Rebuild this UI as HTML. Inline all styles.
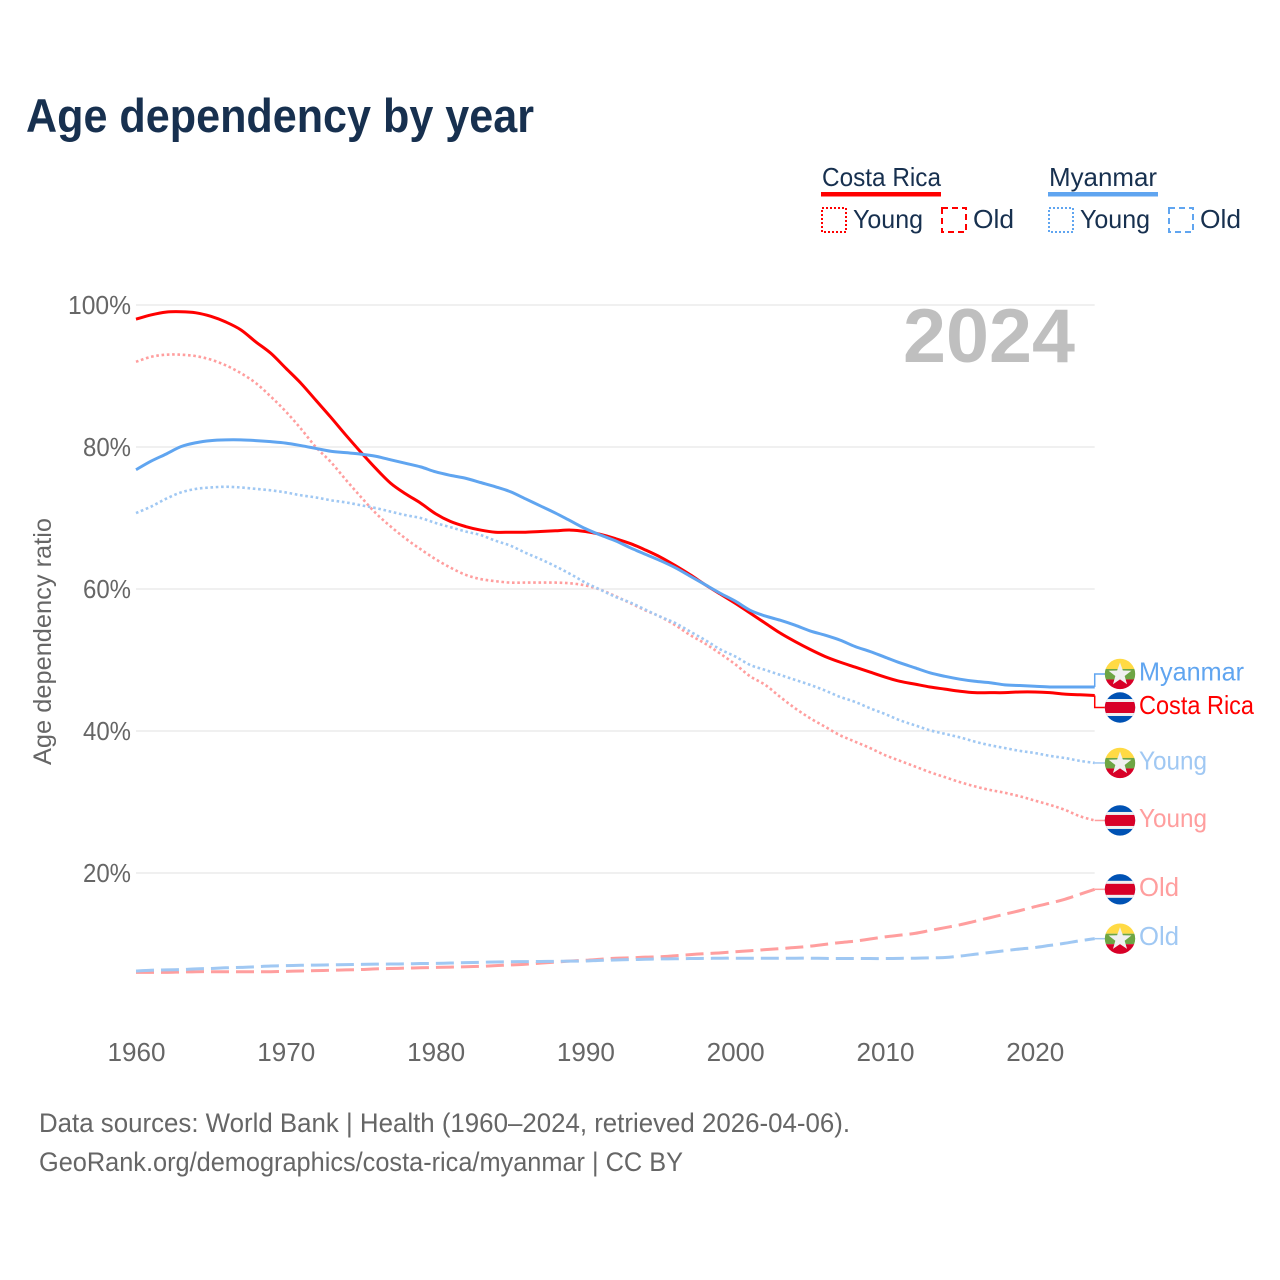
<!DOCTYPE html>
<html lang="en">
<head>
<meta charset="utf-8">
<title>Age dependency by year</title>
<style>
html,body{margin:0;padding:0;background:#fff}
svg{display:block}
text{font-family:"Liberation Sans","DejaVu Sans",sans-serif}
</style>
</head>
<body>
<svg id="chart" xmlns="http://www.w3.org/2000/svg" width="1280" height="1280" viewBox="0 0 1280 1280">
  <rect width="1280" height="1280" fill="#fff"/>
  <text x="26" y="132" font-size="47" font-weight="700" fill="#17304f" textLength="508" lengthAdjust="spacingAndGlyphs">Age dependency by year</text>

  <g font-size="26" fill="#17304f">
    <g>
      <text x="822" y="186" textLength="119" lengthAdjust="spacingAndGlyphs">Costa Rica</text>
      <rect x="821" y="192" width="120" height="4.5" fill="#ff0000"/>
      <rect x="822" y="208" width="24" height="24" fill="none" stroke="#ff0000" stroke-width="2" stroke-dasharray="2 2"/>
      <text x="853" y="228" textLength="70" lengthAdjust="spacingAndGlyphs">Young</text>
      <rect x="942" y="208" width="24" height="24" fill="none" stroke="#ff0000" stroke-width="2" stroke-dasharray="6 4"/>
      <text x="973" y="228" textLength="41" lengthAdjust="spacingAndGlyphs">Old</text>
    </g>
    <g>
      <text x="1049" y="186" textLength="108" lengthAdjust="spacingAndGlyphs">Myanmar</text>
      <rect x="1048" y="192" width="110" height="4.5" fill="#60a5f0"/>
      <rect x="1049" y="208" width="24" height="24" fill="none" stroke="#60a5f0" stroke-width="2" stroke-dasharray="2 2"/>
      <text x="1080" y="228" textLength="70" lengthAdjust="spacingAndGlyphs">Young</text>
      <rect x="1169" y="208" width="24" height="24" fill="none" stroke="#60a5f0" stroke-width="2" stroke-dasharray="6 4"/>
      <text x="1200" y="228" textLength="41" lengthAdjust="spacingAndGlyphs">Old</text>
    </g>
  </g>

  <g id="grid"></g>
  <g id="y-ticks"></g>
  <g id="x-ticks"></g>
  <text transform="translate(51,641.5) rotate(-90)" text-anchor="middle" font-size="25" fill="#666" textLength="247" lengthAdjust="spacingAndGlyphs">Age dependency ratio</text>
  <text x="1075" y="362" text-anchor="end" font-size="76" font-weight="700" fill="#bfbfbf" textLength="172" lengthAdjust="spacingAndGlyphs">2024</text>

  <g id="series"></g>
  <g id="ends"></g>

  <g font-size="26.5" fill="#666">
    <text x="39" y="1132" textLength="811" lengthAdjust="spacingAndGlyphs">Data sources: World Bank | Health (1960–2024, retrieved 2026-04-06).</text>
    <text x="39" y="1171" textLength="644" lengthAdjust="spacingAndGlyphs">GeoRank.org/demographics/costa-rica/myanmar | CC BY</text>
  </g>
</svg>
<script>
const startYear = 1960;
const xTicks = [1960, 1970, 1980, 1990, 2000, 2010, 2020];
const yTicks = [20, 40, 60, 80, 100];

const costaRicaTotal = [98.0,98.6,99.0,99.05,98.9,98.4,97.6,96.5,94.8,93.2,91.1,89.0,86.6,84.2,81.7,79.3,77.0,74.9,73.4,72.1,70.6,69.5,68.8,68.3,68.0,68.0,68.0,68.1,68.2,68.3,68.1,67.7,67.1,66.4,65.5,64.5,63.3,62.0,60.6,59.3,58.0,56.6,55.2,53.8,52.6,51.5,50.5,49.7,49.0,48.3,47.6,47.0,46.6,46.2,45.9,45.6,45.4,45.4,45.4,45.5,45.5,45.4,45.2,45.1,45.0];
const costaRicaYoung = [92.0,92.7,93.0,93.0,92.8,92.3,91.5,90.4,89.0,87.1,85.0,82.6,80.0,77.9,75.4,73.0,70.7,68.8,67.1,65.6,64.2,63.0,62.0,61.4,61.1,60.9,60.9,60.9,60.9,60.8,60.5,59.9,59.0,58.0,57.0,56.1,54.9,53.5,52.3,50.9,49.4,47.7,46.5,44.8,43.2,41.8,40.6,39.4,38.5,37.6,36.6,35.8,35.0,34.2,33.5,32.8,32.2,31.7,31.3,30.8,30.2,29.6,28.9,28.0,27.4];
const costaRicaOld = [6.0,6.0,6.0,6.05,6.1,6.1,6.1,6.1,6.1,6.1,6.15,6.2,6.25,6.3,6.35,6.4,6.5,6.55,6.6,6.65,6.7,6.75,6.8,6.85,6.95,7.05,7.15,7.3,7.45,7.6,7.7,7.85,8.0,8.05,8.15,8.2,8.35,8.5,8.65,8.75,8.9,9.05,9.2,9.35,9.5,9.7,9.95,10.2,10.4,10.7,11.0,11.25,11.5,11.9,12.3,12.7,13.2,13.7,14.2,14.7,15.25,15.75,16.3,17.0,17.7];
const myanmarTotal = [76.8,78.0,79.0,80.05,80.6,80.9,81.0,81.0,80.9,80.75,80.55,80.2,79.8,79.4,79.2,79.0,78.7,78.2,77.7,77.2,76.5,76.0,75.6,75.0,74.4,73.7,72.7,71.7,70.7,69.6,68.5,67.6,66.8,65.8,64.9,64.0,63.0,61.8,60.6,59.4,58.3,57.0,56.2,55.6,54.9,54.1,53.5,52.8,51.9,51.2,50.4,49.6,48.9,48.2,47.7,47.3,47.0,46.8,46.5,46.4,46.3,46.2,46.2,46.2,46.2];
const myanmarYoung = [70.7,71.6,72.7,73.6,74.1,74.3,74.4,74.3,74.1,73.9,73.6,73.2,72.9,72.5,72.2,71.8,71.4,70.9,70.4,70.0,69.3,68.7,68.1,67.6,66.8,66.1,65.1,64.2,63.2,62.1,60.9,59.9,58.9,58.1,57.1,56.1,55.2,54.0,52.8,51.5,50.5,49.3,48.6,47.9,47.2,46.5,45.7,44.8,44.1,43.2,42.4,41.5,40.8,40.1,39.6,39.1,38.5,38.0,37.6,37.2,36.9,36.5,36.2,35.8,35.5];
const myanmarOld = [6.2,6.3,6.35,6.4,6.5,6.55,6.65,6.7,6.8,6.9,6.95,7.0,7.03,7.06,7.1,7.13,7.16,7.18,7.2,7.25,7.27,7.32,7.37,7.42,7.47,7.5,7.52,7.54,7.56,7.58,7.6,7.7,7.75,7.8,7.85,7.9,7.92,7.95,7.97,8.0,8.0,8.0,8.0,8.0,8.0,8.0,7.97,7.95,7.95,7.95,7.95,7.98,8.0,8.05,8.1,8.3,8.55,8.8,9.05,9.3,9.5,9.8,10.1,10.45,10.75];

const SVG_NS = 'http://www.w3.org/2000/svg';
const xOf = function (year) { return 136 + (year - 1960) * 14.98; };
const yOf = function (value) { return 1015 - value * 7.1; };
const plotRight = xOf(2024);

function make(tag, attrs, parent, content) {
  const el = document.createElementNS(SVG_NS, tag);
  Object.keys(attrs).forEach(function (k) { el.setAttribute(k, attrs[k]); });
  if (content !== undefined) el.textContent = content;
  parent.appendChild(el);
  return el;
}

const grid = document.getElementById('grid');
const yTickGroup = document.getElementById('y-ticks');
yTicks.forEach(function (v) {
  const line = make('line', {x1: xOf(1960), x2: plotRight, y1: yOf(v), y2: yOf(v), stroke: '#ececec', 'stroke-width': 1.5}, grid);
  
  
  const label = make('text', {x: 131, y: yOf(v) + 9, 'text-anchor': 'end', 'font-size': 26, fill: '#666', textLength: v === 100 ? 63 : 48, lengthAdjust: 'spacingAndGlyphs'}, yTickGroup, v + '%');
  
  
});

const xTickGroup = document.getElementById('x-ticks');
xTicks.forEach(function (year) {
  const label = make('text', {x: xOf(year) + 0.5, y: 1061, 'text-anchor': 'middle', 'font-size': 26, fill: '#666', textLength: 58, lengthAdjust: 'spacingAndGlyphs'}, xTickGroup, String(year));
  
  
});

const seriesGroup = document.getElementById('series');
const endsGroup = document.getElementById('ends');

function smoothPath(values) {
  const p = values.map(function (v, i) { return [xOf(startYear + i), yOf(v)]; });
  let d = 'M' + p[0][0].toFixed(2) + ' ' + p[0][1].toFixed(2);
  for (let i = 0; i < p.length - 1; i++) {
    const a = p[Math.max(i - 1, 0)], b = p[i], c = p[i + 1], e = p[Math.min(i + 2, p.length - 1)];
    d += 'C' + (b[0] + (c[0] - a[0]) / 6).toFixed(2) + ' ' + (b[1] + (c[1] - a[1]) / 6).toFixed(2) + ' ' +
         (c[0] - (e[0] - b[0]) / 6).toFixed(2) + ' ' + (c[1] - (e[1] - b[1]) / 6).toFixed(2) + ' ' +
         c[0].toFixed(2) + ' ' + c[1].toFixed(2);
  }
  return d;
}

function drawLine(name, values, color, dash, width) {
  const attrs = {d: smoothPath(values), fill: 'none', stroke: color, 'stroke-width': width, 'stroke-linejoin': 'round'};
  if (dash) attrs['stroke-dasharray'] = dash;
  const line = make('path', attrs, seriesGroup);
  
  
}

function drawFlag(parent, country, cy) {
  const cx = 1120;
  const g = make('g', {}, parent);
  
  
  const clipId = 'clip-' + country + '-' + Math.round(cy);
  const defs = make('defs', {}, g);
  const clip = make('clipPath', {id: clipId}, defs);
  make('circle', {cx: cx, cy: cy, r: 15.2}, clip);
  const inner = make('g', {'clip-path': 'url(#' + clipId + ')'}, g);
  if (country === 'myanmar') {
    make('rect', {x: cx - 16, y: cy - 16, width: 32, height: 11, fill: '#ffda44'}, inner);
    make('rect', {x: cx - 16, y: cy - 5, width: 32, height: 10.5, fill: '#6da544'}, inner);
    make('rect', {x: cx - 16, y: cy + 5.5, width: 32, height: 11, fill: '#d80027'}, inner);
    const star = [];
    for (let i = 0; i < 10; i++) {
      const r = i % 2 === 0 ? 12 : 4.9;
      const a = -Math.PI / 2 + i * Math.PI / 5;
      star.push((cx + r * Math.cos(a)).toFixed(2) + ',' + (cy + 0.5 + r * Math.sin(a)).toFixed(2));
    }
    make('polygon', {points: star.join(' '), fill: '#f0f0f0'}, inner);
  } else {
    make('rect', {x: cx - 16, y: cy - 16, width: 32, height: 32, fill: '#0052b4'}, inner);
    make('rect', {x: cx - 16, y: cy - 8.5, width: 32, height: 17, fill: '#f0f0f0'}, inner);
    make('rect', {x: cx - 16, y: cy - 5.5, width: 32, height: 11, fill: '#d80027'}, inner);
  }
}

function drawEnd(name, country, values, color, label, labelWidth, labelDy) {
  const last = yOf(values[values.length - 1]);
  const target = last + labelDy;
  const d = labelDy === 0
    ? 'M' + plotRight + ' ' + last + 'H1106'
    : 'M' + plotRight + ' ' + last + 'V' + target + 'H1106';
  const path = make('path', {d: d, fill: 'none', stroke: color, 'stroke-width': 1.5}, endsGroup);
  
  
  drawFlag(endsGroup, country, target);
  const text = make('text', {x: 1139, y: target + 6.5, 'font-size': 26, fill: color, textLength: labelWidth, lengthAdjust: 'spacingAndGlyphs'}, endsGroup, label);
  
  
}

const RED = '#ff0000', BLUE = '#60a5f0', LRED = '#ff9e9e', LBLUE = '#a0c8f3';
const DOT = '2.6 2.7', DASH = '18 7';

drawLine('line-costa-rica-young', costaRicaYoung, LRED, DOT, 2.6);
drawLine('line-myanmar-young', myanmarYoung, LBLUE, DOT, 2.6);
drawLine('line-costa-rica-old', costaRicaOld, LRED, DASH, 3);
drawLine('line-myanmar-old', myanmarOld, LBLUE, DASH, 3);
drawLine('line-costa-rica-total', costaRicaTotal, RED, null, 3);
drawLine('line-myanmar-total', myanmarTotal, BLUE, null, 3);

drawEnd('end-myanmar-total', 'myanmar', myanmarTotal, BLUE, 'Myanmar', 105, -13);
drawEnd('end-costa-rica-total', 'costa-rica', costaRicaTotal, RED, 'Costa Rica', 115, 12);
drawEnd('end-myanmar-young', 'myanmar', myanmarYoung, LBLUE, 'Young', 68, 0);
drawEnd('end-costa-rica-young', 'costa-rica', costaRicaYoung, LRED, 'Young', 68, 0);
drawEnd('end-costa-rica-old', 'costa-rica', costaRicaOld, LRED, 'Old', 40, 0);
drawEnd('end-myanmar-old', 'myanmar', myanmarOld, LBLUE, 'Old', 40, 0);
</script>
</body>
</html>
